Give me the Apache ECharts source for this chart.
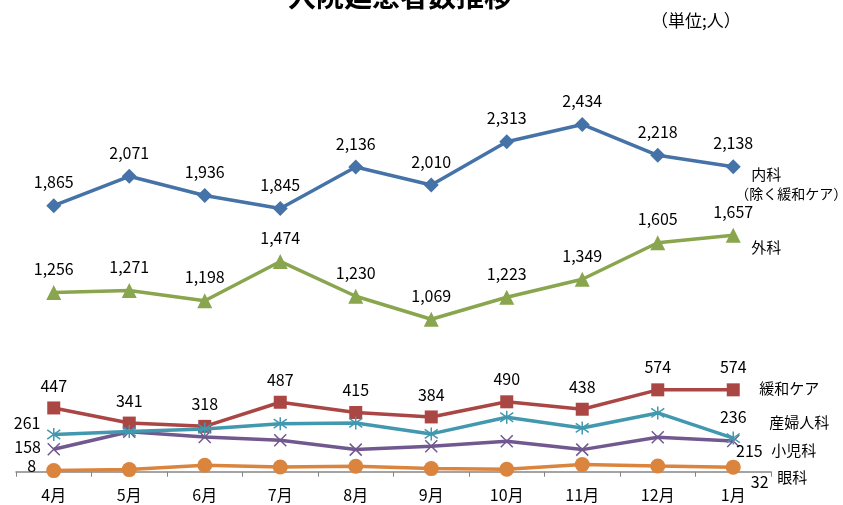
<!DOCTYPE html>
<html><head><meta charset="utf-8">
<script src="https://cdn.jsdelivr.net/npm/echarts@6/dist/echarts.min.js"></script>
<style>html,body{margin:0;padding:0;background:#fff}#c{width:843px;height:505px}</style>
</head><body><div id="c"></div>
<script>
const months = ['4月','5月','6月','7月','8月','9月','10月','11月','12月','1月'];
const naika   = [1865, 2071, 1936, 1845, 2136, 2010, 2313, 2434, 2218, 2138];
const geka    = [1256, 1271, 1198, 1474, 1230, 1069, 1223, 1349, 1605, 1657];
const kanwa   = [447, 341, 318, 487, 415, 384, 490, 438, 574, 574];
const sanfu   = [261, 282, 300, 337, 342, 265, 382, 307, 412, 236];
const shoni   = [158, 280, 244, 220, 155, 178, 213, 155, 241, 215];
const ganka   = [8, 15, 45, 33, 38, 22, 17, 50, 40, 32];

const FONT = "'Noto Sans CJK JP', sans-serif";
const fmt = v => Number(v).toLocaleString('en-US');

const ASTER = 'path://M5,0L5,10M0.5,1.5L9.5,8.5M0.5,8.5L9.5,1.5';
const CROSS = 'path://M0,0L10,10M0,10L10,0';

function baseLabel(extra) {
  return Object.assign({show:true, color:'#000', fontFamily:FONT, fontSize:16, formatter: p => fmt(p.value)}, extra);
}

function mk(name, values, color, symbol, size, opts) {
  let data;
  if (opts.allLabels) {
    data = values.slice();
  } else {
    data = values.map((v, i) => {
      if (i === 0) return {value: v, label: baseLabel(opts.first)};
      if (i === values.length - 1) return {value: v, label: baseLabel(opts.last)};
      return {value: v};
    });
  }
  const stroke = opts.stroke;
  return {
    type:'line', name, data, symbol, symbolSize: size,
    lineStyle:{color, width:3.5},
    itemStyle: stroke ? {color:'rgba(0,0,0,0)', borderColor:color, borderWidth:1.5} : {color},
    label: opts.allLabels ? baseLabel({position:'top', distance:8}) : {show:false},
    endLabel: {show:true, formatter: opts.endText, color:'#000', fontFamily:FONT, fontSize:15,
      distance:0, offset: opts.endOffset, align:'left', verticalAlign:'middle', lineHeight:19,
      rich: opts.rich},
    emphasis:{disabled:true},
    z: opts.z || 2
  };
}

const chart = echarts.init(document.getElementById('c'), null, {renderer:'canvas'});
chart.setOption({
  animation:false,
  backgroundColor:'#fff',
  grid:{left:16, right:72, top:58, bottom:29, containLabel:false},
  xAxis:{type:'category', data:months, boundaryGap:true,
    axisLine:{lineStyle:{color:'#868686', width:1.5}},
    axisTick:{show:true, length:5, inside:false, lineStyle:{color:'#868686'}},
    axisLabel:{color:'#000', fontFamily:FONT, fontSize:16, margin:11}},
  yAxis:{type:'value', min:-30, max:2900, show:false, splitLine:{show:false}},
  graphic:[
    {type:'text', x:400, y:10, style:{text:'入院延患者数推移', fontFamily:FONT, fontSize:28, fontWeight:'bold', fill:'#000', textAlign:'center', textVerticalAlign:'bottom'}},
    {type:'text', x:651, y:21, style:{text:'（単位;人）', fontFamily:FONT, fontSize:17, fill:'#000', textAlign:'left', textVerticalAlign:'middle'}}
  ],
  series:[
    mk('内科', naika, '#4572A7', 'diamond', 15, {allLabels:true,
      endText:'{a|内科}\n{b|（除く緩和ケア）}', endOffset:[2,17],
      rich:{a:{fontFamily:FONT, fontSize:15, color:'#000', padding:[0,0,0,16], lineHeight:19},
            b:{fontFamily:FONT, fontSize:14, color:'#000', lineHeight:19}}}),
    mk('外科', geka, '#89A54E', 'triangle', 15, {allLabels:true,
      endText:'外科', endOffset:[18,12]}),
    mk('緩和ケア', kanwa, '#AA4643', 'rect', 13, {allLabels:true,
      endText:'緩和ケア', endOffset:[26,-2]}),
    mk('産婦人科', sanfu, '#4198AF', ASTER, 13, {stroke:true,
      first:{position:'left', distance:6, offset:[0,-12]},
      last:{position:'top', distance:6, offset:[0,0]},
      endText:'産婦人科', endOffset:[36,-16], z:3}),
    mk('小児科', shoni, '#71588F', CROSS, 12, {stroke:true,
      first:{position:'left', distance:6, offset:[0,-2]},
      last:{position:'right', distance:4, offset:[-8,10]},
      endText:'小児科', endOffset:[38,9]}),
    mk('眼科', ganka, '#DB843D', 'circle', 15, {
      first:{position:'left', distance:6, offset:[-4,-5]},
      last:{position:'right', distance:4, offset:[6,15]},
      endText:'眼科', endOffset:[44,10]})
  ]
});
</script></body></html>
